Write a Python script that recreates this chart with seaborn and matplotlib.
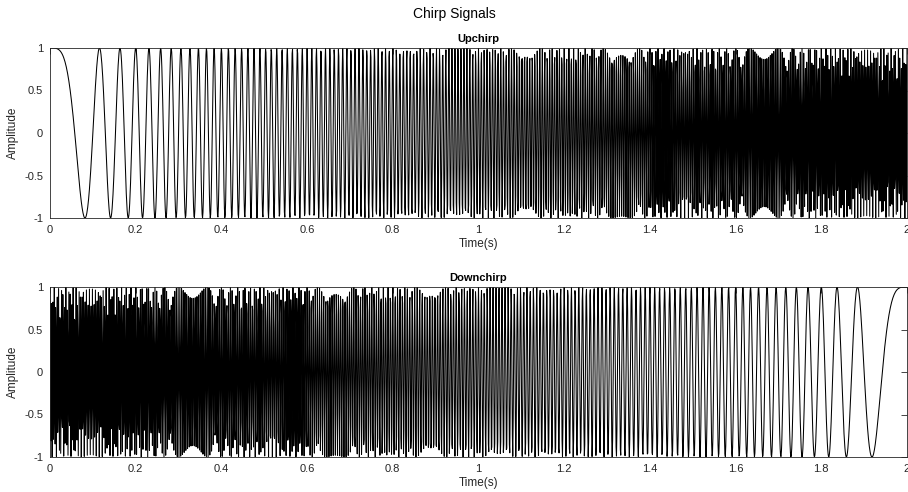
import numpy as np
import pandas as pd
import matplotlib
matplotlib.use("Agg")
import matplotlib.pyplot as plt
import seaborn as sns

# Chirp parameters (MATLAB-style chirp(t, f0, t1, f1), linear sweep)
FS = 1000.0          # sample rate, Hz
T_END = 2.0          # duration, s
F0 = 0.0             # start frequency, Hz
T1 = 1.0             # reference time, s
F1 = 150.0           # frequency at T1, Hz

x_ticks = [0, 0.2, 0.4, 0.6, 0.8, 1.0, 1.2, 1.4, 1.6, 1.8, 2.0]
x_ticklabels = ["0", "0.2", "0.4", "0.6", "0.8", "1", "1.2", "1.4", "1.6", "1.8", "2"]
y_ticks = [-1, -0.5, 0, 0.5, 1]
y_ticklabels = ["-1", "-0.5", "0", "0.5", "1"]
panel_titles = ["Upchirp", "Downchirp"]
suptitle = "Chirp Signals"

t = np.arange(0, T_END + 1e-9, 1.0 / FS)
beta = (F1 - F0) / T1
up = np.cos(2 * np.pi * (F0 * t + 0.5 * beta * t ** 2))
down = up[::-1]

sns.set_theme(style="white")
plt.rcParams["font.family"] = ["Liberation Sans", "DejaVu Sans"]

fig = plt.figure(figsize=(9.08, 4.92), dpi=100)
W, H = 908, 492
boxes = [(50, 48, 907, 218), (50, 287, 907, 457)]
signals = [up, down]

for (x0, y0, x1, y1), sig, ttl in zip(boxes, signals, panel_titles):
    ax = fig.add_axes([x0 / W, 1 - y1 / H, (x1 - x0) / W, (y1 - y0) / H])
    df = pd.DataFrame({"Time": t, "Amplitude": sig})
    sns.lineplot(data=df, x="Time", y="Amplitude", ax=ax, color="black",
                 linewidth=0.75, estimator=None, sort=False)
    ax.set_xlim(0, 2)
    ax.set_ylim(-1, 1)
    ax.set_xticks(x_ticks)
    ax.set_xticklabels(x_ticklabels)
    ax.set_yticks(y_ticks)
    ax.set_yticklabels(y_ticklabels)
    ax.tick_params(direction="in", length=4, width=0.6, colors="#262626",
                   labelsize=8, top=True, right=True, pad=5,
                   labelcolor="#262626")
    for s in ax.spines.values():
        s.set_color("#262626")
        s.set_linewidth(0.6)
        s.set_visible(True)
    ax.set_xlabel("Time(s)", fontsize=8.5, color="#262626", labelpad=2)
    ax.set_ylabel("Amplitude", fontsize=8.5, color="#262626", labelpad=4)
    ax.set_title(ttl, fontsize=8, fontweight="bold", color="black", pad=4)
    ax.set_facecolor("white")

fig.text(0.5, 1 - 14 / H, suptitle, ha="center", va="center", fontsize=10, color="black")
fig.savefig("out.png", dpi=100, facecolor="white")
